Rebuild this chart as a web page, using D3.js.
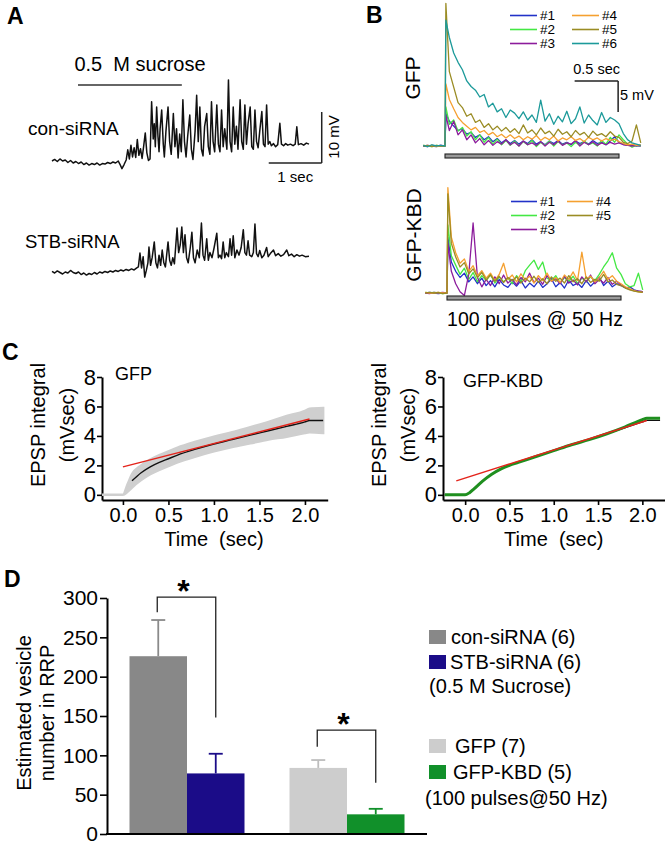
<!DOCTYPE html>
<html><head><meta charset="utf-8">
<script src="https://cdn.jsdelivr.net/npm/d3@7"></script>
<style>body{margin:0;background:#fff}svg{display:block}text{font-family:"Liberation Sans",Arial,Helvetica,sans-serif}</style>
</head><body><svg id="c" width="667" height="853"></svg>
<script>
// ---------------- DATA ----------------
// Panel A: sucrose-evoked traces, [time (s), mV]
const conTrace = [[0,0.2],[0.05,0.5],[0.1,0.1],[0.15,0.6],[0.2,0.2],[0.25,0.4],[0.3,-0.1],[0.35,0.3],[0.4,-0.2],[0.45,0.1],[0.5,-0.3],[0.55,0],[0.6,-0.5],[0.65,-0.2],[0.7,-0.6],[0.75,-0.3],[0.8,-0.5],[0.85,-0.2],[0.9,-0.6],[0.95,-0.3],[1.0,-0.4],[1.05,-0.1],[1.1,-0.3],[1.15,0],[1.2,-0.2],[1.25,0.2],[1.28,-0.4],[1.32,-1.3],[1.36,-0.5],[1.4,0.4],[1.43,2.4],[1.46,0.6],[1.49,3.3],[1.52,1.0],[1.55,2.8],[1.58,0.9],[1.61,4.4],[1.64,1.3],[1.67,2.6],[1.7,0.7],[1.73,3.1],[1.76,5.7],[1.79,1.8],[1.82,0.3],[1.85,0.6],[1.88,11.8],[1.91,4.5],[1.93,7.5],[1.95,3.0],[1.975,10.8],[2.0,5.0],[2.02,2.0],[2.04,6.5],[2.07,10.2],[2.1,3.5],[2.12,1.0],[2.15,6.0],[2.19,10.8],[2.22,4.0],[2.25,1.5],[2.29,9.5],[2.32,3.0],[2.35,6.5],[2.38,0.8],[2.41,5.5],[2.44,2.0],[2.47,12.2],[2.5,4.0],[2.53,1.0],[2.56,5.0],[2.6,9.2],[2.63,2.5],[2.66,0.5],[2.7,6.0],[2.73,13.1],[2.76,4.0],[2.79,10.8],[2.82,2.5],[2.85,1.2],[2.88,7.0],[2.92,9.5],[2.95,3.0],[2.98,1.5],[3.01,11.8],[3.04,4.0],[3.07,2.0],[3.11,11.2],[3.14,3.5],[3.17,2.0],[3.2,10.2],[3.23,3.0],[3.26,6.5],[3.3,2.5],[3.33,16.1],[3.36,4.0],[3.39,2.0],[3.42,10.8],[3.45,3.5],[3.48,7.0],[3.51,2.5],[3.55,12.2],[3.58,4.0],[3.61,2.5],[3.64,11.2],[3.67,3.5],[3.7,7.5],[3.74,10.8],[3.77,3.0],[3.8,2.5],[3.83,10.2],[3.86,4.0],[3.89,2.8],[3.92,6.0],[3.96,9.9],[3.99,3.5],[4.02,3.0],[4.05,11.2],[4.08,3.5],[4.11,4.0],[4.14,3.2],[4.18,3.6],[4.22,3.0],[4.26,3.4],[4.3,7.6],[4.33,3.5],[4.37,3.2],[4.41,3.6],[4.45,3.3],[4.5,3.5],[4.55,3.2],[4.59,3.5],[4.62,6.9],[4.65,3.4],[4.7,3.6],[4.75,3.3],[4.8,3.7],[4.85,3.5]];
const stbTrace = [[0,0.3],[0.05,0],[0.1,0.4],[0.15,0.1],[0.2,-0.2],[0.25,0.2],[0.3,0],[0.35,0.5],[0.4,0.1],[0.45,-0.1],[0.5,0.2],[0.55,-0.3],[0.6,0],[0.65,-0.4],[0.7,-0.1],[0.75,-0.3],[0.8,0.1],[0.85,-0.2],[0.9,0.2],[0.95,0],[1.0,0.3],[1.05,0.1],[1.1,0.4],[1.15,0.2],[1.2,0.5],[1.25,0.3],[1.3,0.6],[1.35,0.4],[1.4,0.7],[1.45,0.5],[1.5,0.8],[1.55,0.6],[1.6,1.0],[1.63,1.2],[1.66,3.9],[1.69,1.0],[1.72,3.2],[1.75,-0.8],[1.78,0.5],[1.81,2.0],[1.83,5.1],[1.86,1.5],[1.89,3.0],[1.93,6.1],[1.96,2.0],[1.99,1.0],[2.02,3.5],[2.05,1.5],[2.08,4.5],[2.11,2.0],[2.14,1.2],[2.19,6.1],[2.22,2.5],[2.25,1.5],[2.28,3.0],[2.31,1.8],[2.36,8.8],[2.39,4.0],[2.42,5.5],[2.45,9.0],[2.48,4.0],[2.51,7.5],[2.54,3.0],[2.57,2.0],[2.61,5.0],[2.64,8.0],[2.67,3.0],[2.7,2.0],[2.74,4.5],[2.78,3.0],[2.82,9.8],[2.85,3.5],[2.88,2.5],[2.92,6.7],[2.95,2.5],[2.98,4.0],[3.02,3.0],[3.06,5.0],[3.11,7.8],[3.14,3.0],[3.17,3.5],[3.2,2.8],[3.23,6.1],[3.26,3.0],[3.29,4.0],[3.33,3.2],[3.36,6.7],[3.39,3.5],[3.42,7.3],[3.45,3.0],[3.49,4.5],[3.53,3.5],[3.57,5.0],[3.61,8.5],[3.64,4.0],[3.67,3.5],[3.7,6.3],[3.73,3.5],[3.77,3.2],[3.8,4.0],[3.83,9.6],[3.86,3.8],[3.89,3.2],[3.92,4.4],[3.96,3.0],[4.0,3.5],[4.05,5.0],[4.08,3.2],[4.12,3.8],[4.18,4.5],[4.22,3.4],[4.27,3.8],[4.32,3.3],[4.37,3.6],[4.43,4.5],[4.47,3.4],[4.52,3.7],[4.57,3.2],[4.62,3.6],[4.67,3.3],[4.72,3.5],[4.78,3.2],[4.85,3.3]];
const sucrosePeriod = [0.49, 2.45];

// Panel B: train-evoked traces (time s, mV)
const bTime = [-0.25,-0.2,-0.15,-0.1,-0.05,0,0.01,0.05,0.1,0.15,0.2,0.25,0.3,0.35,0.4,0.45,0.5,0.55,0.6,0.65,0.7,0.75,0.8,0.85,0.9,0.95,1,1.05,1.1,1.15,1.2,1.25,1.3,1.35,1.4,1.45,1.5,1.55,1.6,1.65,1.7,1.75,1.8,1.85,1.9,1.95,2,2.05,2.1,2.15,2.2,2.25];
const trainPeriod = [0, 2];
const bLabels = ["#1","#2","#3","#4","#5","#6"];
const bColors = ["#2232c8","#44e844","#8c1c9c","#f5a030","#9a8c24","#1c9a9a"];
const gfp1 = [0,-0.1,0.1,0,0.1,0,5.3,4.0,3.2,2.5,2.8,1.9,2.2,1.4,1.8,1.0,1.5,0.7,1.2,0.5,1.0,0.4,0.9,0.3,0.8,0.4,1.0,0.3,0.7,0.2,0.8,0.4,0.9,0.3,0.6,0.2,0.8,0.4,0.7,0.3,0.9,0.4,0.6,0.2,0.8,1.5,0.6,0.3,0.1,0.2,0,0.1];
const gfp2 = [0.1,0,-0.1,0.1,0,0,6.3,3.5,4.2,2.4,3.0,1.6,2.3,1.0,1.8,0.6,1.4,0.3,1.1,0.2,0.9,0.1,0.8,0,0.7,0.2,0.9,-0.1,0.6,0.1,0.8,0,0.7,0.2,0.5,-0.1,0.6,0.1,0.8,0.2,0.5,0,0.9,0.3,1.4,0.6,1.8,1.0,0.3,-0.2,0.1,0];
const gfp3 = [0,0.1,0,-0.1,0.1,0,5.0,2.5,4.0,1.8,2.6,1.0,1.8,0.5,1.2,0.2,0.9,0.1,0.7,0.3,1.0,0.2,0.6,0,0.8,0.2,0.5,0.1,0.7,0,0.6,0.2,0.8,0.1,0.5,0.3,0.9,0,0.6,0.2,0.7,0.1,0.5,0.2,0.6,0.3,0.5,0.2,0.1,0,0.1,0];
const gfp4 = [0.1,0,0.1,-0.1,0,0,10.0,7.5,6.0,4.6,3.8,3.2,2.6,3.0,2.2,2.5,1.8,2.2,1.5,1.9,1.3,1.8,1.2,1.6,1.0,1.5,1.1,1.7,0.9,1.4,1.0,1.6,0.8,1.3,1.0,1.5,0.9,1.2,0.7,1.4,1.0,1.3,0.8,1.2,0.9,1.1,0.7,0.4,0.2,0.3,0.1,0.2];
const gfp5 = [0,0.1,-0.1,0.1,0,0,23.0,12.0,9.5,7.0,6.2,4.8,5.2,3.8,4.2,3.0,3.6,2.6,3.2,2.4,3.0,2.2,2.8,2.0,3.4,2.1,2.6,1.8,2.9,2.0,2.4,1.6,2.7,1.9,2.3,1.5,2.5,1.8,2.2,1.4,2.4,1.7,2.0,1.5,2.3,1.6,1.4,0.6,0.4,0.8,3.4,0.5];
const gfp6 = [0.1,-0.1,0.2,0,0.1,0,20.3,17.5,15.0,13.5,12.3,10.5,9.6,9.0,7.9,8.3,6.3,6.9,5.5,6.0,4.6,5.8,5.3,4.4,5.5,4.2,5.0,3.8,7.4,4.0,5.2,3.5,4.8,3.9,5.6,3.6,4.4,6.3,3.7,5.0,4.1,3.4,5.4,3.8,4.6,4.2,3.6,2.0,1.0,0.5,0.3,0.1];
const kbd1 = [0,0.1,0,-0.1,0,0,9.0,5.0,3.5,2.5,3.2,1.8,2.6,1.5,2.4,1.2,2.0,1.0,2.2,1.3,0.9,1.8,1.1,2.0,0.8,1.6,1.0,1.9,0.9,1.5,2.3,1.0,1.7,0.8,2.1,1.2,1.6,0.9,2.0,1.1,1.8,2.6,1.2,1.9,1.0,1.5,1.2,0.8,1.0,0.5,0.3,0.2];
const kbd2 = [0.1,0,0.1,0,-0.1,0,11.0,6.0,4.5,3.0,4.0,2.2,3.3,1.8,2.8,2.0,3.0,1.6,2.6,1.8,2.4,1.5,2.8,1.9,3.6,4.5,5.3,3.8,5.0,2.4,2.0,2.8,1.6,2.5,1.9,2.7,1.5,2.4,1.8,2.6,2.0,3.0,4.2,5.2,6.5,4.0,3.0,1.5,1.0,1.2,3.2,0.5];
const kbd3 = [0,-0.1,0.1,0,0.1,0,8.0,3.5,1.5,0.2,-0.4,3.0,11.3,2.5,1.0,2.2,1.2,2.6,1.5,2.9,1.6,2.2,1.3,2.5,1.8,3.2,1.7,2.4,1.4,2.8,1.9,2.3,1.5,2.7,1.6,2.1,1.3,2.6,1.8,2.9,1.5,2.2,1.6,2.5,1.4,1.9,1.3,0.9,0.6,0.4,0.3,0.2];
const kbd4 = [0.1,0,0,0.1,0,0,17.0,9.0,6.5,4.8,5.5,3.5,4.4,2.8,3.6,2.4,3.2,2.0,3.0,4.8,2.2,2.9,1.8,3.1,2.1,2.7,1.6,2.8,2.0,3.2,1.9,2.5,1.7,2.9,2.2,3.4,2.0,6.6,2.3,2.7,1.8,2.5,3.5,2.2,2.8,1.9,1.5,1.0,0.7,0.4,0.2,0.1];
const kbd5 = [0,0.1,0,0.1,-0.1,0,16.0,8.0,5.8,4.2,4.9,3.1,3.9,2.5,3.3,2.1,2.9,1.9,2.7,1.7,2.5,2.0,2.6,1.6,2.4,1.8,2.7,1.7,2.3,1.5,2.6,1.9,2.4,1.6,2.8,1.8,2.3,1.5,2.6,1.7,2.2,1.9,3.0,1.8,2.1,1.4,1.2,0.8,0.5,0.3,0.2,0.1];
const gfpTraces = [gfp1,gfp2,gfp3,gfp4,gfp5,gfp6];
const kbdTraces = [kbd1,kbd2,kbd3,kbd4,kbd5];

// Panel C: cumulative EPSP integral (mV*s)
const cTime = [-0.23,0,0.05,0.1,0.2,0.3,0.4,0.5,0.6,0.8,1.0,1.2,1.4,1.6,1.8,2.0,2.05,2.2];
const gfpMean = [0,0,0.45,0.95,1.5,1.9,2.2,2.45,2.7,3.1,3.45,3.75,4.05,4.35,4.65,4.95,5.05,5.05];
const gfpSem  = [0,0,0.25,0.45,0.5,0.5,0.5,0.5,0.5,0.5,0.5,0.5,0.55,0.6,0.7,0.75,0.8,0.85];
const kbdMean = [0,0,0.15,0.4,0.95,1.4,1.75,2.0,2.2,2.6,3.0,3.4,3.75,4.15,4.6,5.1,5.2,5.2];
const kbdBlack= [0,0,0.15,0.4,0.95,1.4,1.75,2.0,2.2,2.6,3.0,3.4,3.75,4.15,4.55,4.95,5.05,5.05];
const gfpFit = [[0,1.9],[2.05,5.15]];
const kbdFit = [[-0.1,0.95],[2.05,5.05]];
const cYTicks = [0,2,4,6,8];
const cXTicks = [0,0.5,1,1.5,2];

// Panel D: estimated RRP size
const dCats = ["con-siRNA","STB-siRNA","GFP","GFP-KBD"];
const dGroup = ["sucrose","sucrose","train","train"];
const dMeans = [226, 77, 84, 25];
const dErrs = [46, 25, 10, 7];
const dN = [6, 6, 7, 5];
const dColors = ["#888888","#1b0c88","#cdcdcd","#11902a"];
const dErrColors = ["#8a8a8a","#1b0c88","#bdbdbd","#11902a"];
const dYTicks = [0,50,100,150,200,250,300];
const dSig = [{a:0,b:1,top:301,left:282,right:148},{a:2,b:3,top:132,left:111,right:65}];

// ---------------- DRAW ----------------
const svg = d3.select("#c");
const FONT = '"Liberation Sans", Arial, Helvetica, sans-serif';
function label(x, y, s, size, o = {}) {
  const t = svg.append("text").attr("x", x).attr("y", y).text(s)
    .attr("font-size", size).attr("font-family", FONT)
    .attr("text-anchor", o.anchor || "start")
    .attr("font-weight", o.bold ? "bold" : "normal")
    .attr("fill", o.fill || "#000").style("white-space", "pre");
  if (o.rot) t.attr("transform", `rotate(-90 ${x} ${y})`);
  return t;
}
function seg(x1, y1, x2, y2, c, w) {
  svg.append("line").attr("x1", x1).attr("y1", y1).attr("x2", x2).attr("y2", y2)
    .attr("stroke", c || "#000").attr("stroke-width", w || 1.5);
}

// panel letters
label(7, 24, "A", 23, {bold: true});
label(366, 23, "B", 23, {bold: true});
label(2, 360, "C", 23, {bold: true});
label(4, 587, "D", 23, {bold: true});

// ---- Panel A ----
const aX = d3.scaleLinear().domain([0, 4.85]).range([52, 309]);
const conY = d3.scaleLinear().domain([0, 10]).range([162, 111]);
const stbY = d3.scaleLinear().domain([0, 10]).range([273, 222]);
svg.append("path").datum(conTrace).attr("fill", "none").attr("stroke", "#111").attr("stroke-width", 1.5)
  .attr("stroke-linejoin", "round").attr("d", d3.line().x(d => aX(d[0])).y(d => conY(d[1])));
svg.append("path").datum(stbTrace).attr("fill", "none").attr("stroke", "#111").attr("stroke-width", 1.5)
  .attr("stroke-linejoin", "round").attr("d", d3.line().x(d => aX(d[0])).y(d => stbY(d[1])));
seg(aX(sucrosePeriod[0]), 85, aX(sucrosePeriod[1]), 85, "#333", 1.3);
label(140, 71, "0.5  M sucrose", 20, {anchor: "middle"});
label(28, 135, "con-siRNA", 19);
label(25, 248, "STB-siRNA", 18.5);
// scale bar A: 1 s, 10 mV
seg(aX(4.09), conY(-0.2), aX(5.09), conY(-0.2), "#222", 1.5);
seg(aX(5.09), conY(-0.2), aX(5.09), conY(9.8), "#222", 1.5);
label(aX(4.59), 182, "1 sec", 15, {anchor: "middle"});
label(339, 137, "10 mV", 15, {anchor: "middle", rot: true});

// ---- Panel B ----
function drawTraces(traces, xS, yS) {
  const ln = d3.line().x((d, i) => xS(bTime[i])).y(d => yS(d));
  traces.forEach((tr, k) => {
    svg.append("path").datum(tr).attr("fill", "none").attr("stroke", bColors[k])
      .attr("stroke-width", 1.3).attr("stroke-linejoin", "round").attr("d", ln);
  });
}
const gX = d3.scaleLinear().domain([0, 2]).range([445, 619]);
const gY = d3.scaleLinear().domain([0, 5]).range([146, 115]);
drawTraces(gfpTraces, gX, gY);
svg.append("rect").attr("x", gX(trainPeriod[0])).attr("y", 154).attr("width", gX(trainPeriod[1]) - gX(trainPeriod[0]))
  .attr("height", 4).attr("fill", "#9a9a9a").attr("stroke", "#222").attr("stroke-width", 1.1);
label(420, 78, "GFP", 21, {anchor: "middle", rot: true});
// scale bar B: 0.5 s, 5 mV
seg(gX(1.49), gY(10.5), gX(1.99), gY(10.5), "#222", 1.5);
seg(gX(1.99), gY(10.5), gX(1.99), gY(5.5), "#222", 1.5);
label(gX(1.49) + 22, 74, "0.5 sec", 14.5, {anchor: "middle"});
label(620, 100, "5 mV", 14.5);
// legend B (GFP)
const legPos = [[510, 15.5], [510, 29.5], [510, 43.5], [572, 15.5], [572, 29.5], [572, 43.5]];
gfpTraces.forEach((t, k) => {
  const [lx, ly] = legPos[k];
  seg(lx, ly, lx + 27, ly, bColors[k], 1.6);
  label(lx + 30, ly + 4.8, bLabels[k], 13.5);
});

const kX = d3.scaleLinear().domain([0, 2]).range([447, 621]);
const kY = d3.scaleLinear().domain([0, 5]).range([293, 262]);
drawTraces(kbdTraces, kX, kY);
svg.append("rect").attr("x", kX(trainPeriod[0])).attr("y", 296).attr("width", kX(trainPeriod[1]) - kX(trainPeriod[0]))
  .attr("height", 4).attr("fill", "#9a9a9a").attr("stroke", "#222").attr("stroke-width", 1.1);
label(421, 235, "GFP-KBD", 21, {anchor: "middle", rot: true});
const legPosK = [[511, 201.5], [511, 215.5], [511, 229.5], [567, 201.5], [567, 215.5]];
kbdTraces.forEach((t, k) => {
  const [lx, ly] = legPosK[k];
  seg(lx, ly, lx + 26, ly, bColors[k], 1.6);
  label(lx + 29, ly + 4.8, bLabels[k], 13.5);
});
label(535, 326, "100 pulses @ 50 Hz", 19.5, {anchor: "middle"});

// ---- Panel C ----
function cPanel(x0, x1, dom, title, titleX, titleY) {
  const xS = d3.scaleLinear().domain(dom).range([x0, x1]);
  const yS = d3.scaleLinear().domain([-0.35, 8]).range([500, 377]);
  const gy = svg.append("g").attr("transform", `translate(${x0},0)`)
    .call(d3.axisLeft(yS).tickValues(cYTicks).tickFormat(d3.format("d")).tickSize(5).tickSizeOuter(0).tickPadding(1));
  gy.select(".domain").attr("stroke-width", 2);
  gy.selectAll(".tick line").attr("stroke-width", 1.6);
  gy.selectAll("text").attr("font-size", 22).attr("font-family", FONT);
  const gx = svg.append("g").attr("transform", `translate(0,500)`)
    .call(d3.axisBottom(xS).tickValues(cXTicks).tickFormat(d3.format(".1f")).tickSize(5).tickSizeOuter(0).tickPadding(3));
  gx.select(".domain").attr("stroke-width", 2);
  gx.selectAll(".tick line").attr("stroke-width", 1.6);
  gx.selectAll("text").attr("font-size", 20).attr("font-family", FONT);
  label(titleX, titleY, title, 18);
  label(xS(1.0), 546, "Time  (sec)", 20, {anchor: "middle"});
  label(x0 - 57, 425, "EPSP integral", 20, {anchor: "middle", rot: true});
  label(x0 - 28, 425, "(mVsec)", 20, {anchor: "middle", rot: true});
  return [xS, yS];
}
// left: GFP
{
  const [xS, yS] = cPanel(102, 327.7, [-0.23, 2.25], "GFP", 115, 380);
  const idx = cTime.map((d, i) => i);
  svg.append("path").datum(idx).attr("fill", "#cfcfcf").attr("stroke", "#cfcfcf").attr("stroke-width", 2.5)
    .attr("d", d3.area().curve(d3.curveMonotoneX).x(i => xS(cTime[i]))
      .y0(i => yS(gfpMean[i] - gfpSem[i])).y1(i => yS(gfpMean[i] + gfpSem[i])));
  svg.append("path").datum(idx.slice(3)).attr("fill", "none").attr("stroke", "#111").attr("stroke-width", 1.4)
    .attr("d", d3.line().curve(d3.curveMonotoneX).x(i => xS(cTime[i])).y(i => yS(gfpMean[i])));
  svg.append("path").datum(gfpFit).attr("fill", "none").attr("stroke", "#e3241b").attr("stroke-width", 1.5)
    .attr("d", d3.line().x(d => xS(d[0])).y(d => yS(d[1])));
}
// right: GFP-KBD
{
  const [xS, yS] = cPanel(443, 664.5, [-0.25, 2.25], "GFP-KBD", 463, 387);
  const idx = cTime.map((d, i) => i);
  svg.append("path").datum(idx).attr("fill", "none").attr("stroke", "#111").attr("stroke-width", 1.3)
    .attr("d", d3.line().curve(d3.curveMonotoneX).x(i => xS(cTime[i])).y(i => yS(kbdBlack[i])));
  svg.append("path").datum(idx).attr("fill", "none").attr("stroke", "#1f8f1f").attr("stroke-width", 3)
    .attr("d", d3.line().curve(d3.curveMonotoneX).x(i => xS(cTime[i])).y(i => yS(kbdMean[i])));
  svg.append("path").datum(kbdFit).attr("fill", "none").attr("stroke", "#e3241b").attr("stroke-width", 1.5)
    .attr("d", d3.line().x(d => xS(d[0])).y(d => yS(d[1])));
}

// ---- Panel D ----
{
  const yS = d3.scaleLinear().domain([0, 300]).range([834, 598]);
  const groups = ["sucrose", "train"];
  const gS = d3.scaleBand().domain(groups).range([107, 427]).paddingInner(0.28125).paddingOuter(0.140625);
  const iS = d3.scaleBand().domain([0, 1]).range([0, gS.bandwidth()]);
  const bx = i => gS(dGroup[i]) + iS(i % 2);
  const bc = i => bx(i) + iS.bandwidth() / 2;
  dMeans.forEach((v, i) => {
    svg.append("rect").attr("x", bx(i)).attr("y", yS(v)).attr("width", iS.bandwidth())
      .attr("height", yS(0) - yS(v)).attr("fill", dColors[i]);
    seg(bc(i), yS(v), bc(i), yS(v + dErrs[i]), dErrColors[i], 1.8);
    seg(bc(i) - 7, yS(v + dErrs[i]), bc(i) + 7, yS(v + dErrs[i]), dErrColors[i], 1.8);
  });
  const gy = svg.append("g").attr("transform", "translate(107,0)")
    .call(d3.axisLeft(yS).tickValues(dYTicks).tickSize(7).tickSizeOuter(0).tickPadding(2));
  gy.select(".domain").attr("stroke-width", 2);
  gy.selectAll(".tick line").attr("stroke-width", 1.6);
  gy.selectAll("text").attr("font-size", 21).attr("font-family", FONT);
  seg(106, yS(0), 427, yS(0), "#000", 2);
  label(31, 713, "Estimated vesicle", 20, {anchor: "middle", rot: true});
  label(54, 713, "number in RRP", 20, {anchor: "middle", rot: true});
  dSig.forEach(s => {
    const xa = bc(s.a) - 1, xb = bc(s.b);
    svg.append("path").attr("fill", "none").attr("stroke", "#222").attr("stroke-width", 1.3)
      .attr("d", `M${xa},${yS(s.left)}V${yS(s.top)}H${xb}V${yS(s.right)}`);
    label((xa + xb) / 2 - 3, yS(s.top) + 5, "*", 32, {anchor: "middle", bold: true});
  });
  // legend
  const leg = [
    {y: 630, c: 0, t: "con-siRNA (6)", tx: 451},
    {y: 655, c: 1, t: "STB-siRNA (6)", tx: 450},
    {y: 739, c: 2, t: "GFP (7)", tx: 455},
    {y: 765, c: 3, t: "GFP-KBD (5)", tx: 453}
  ];
  leg.forEach(l => {
    svg.append("rect").attr("x", 429).attr("y", l.y).attr("width", 17).attr("height", 14).attr("fill", dColors[l.c]);
    label(l.tx, l.y + 13.5, l.t, 20);
  });
  label(429, 693, "(0.5 M Sucrose)", 20);
  label(425, 805, "(100 pulses@50 Hz)", 20);
}
</script></body></html>
